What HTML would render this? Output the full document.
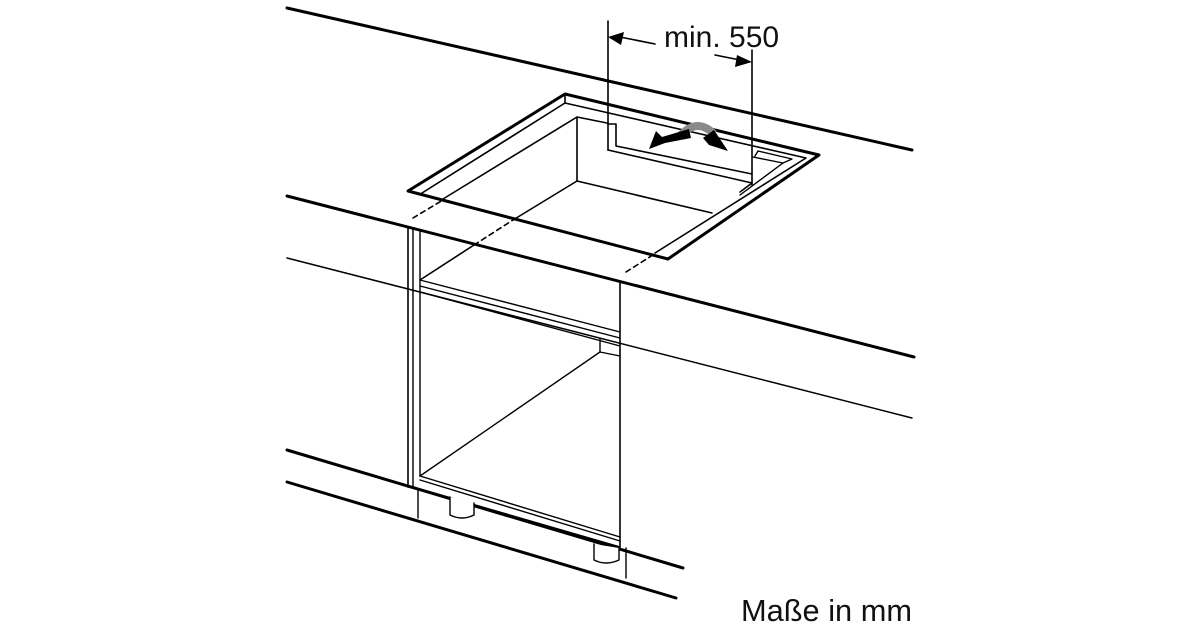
<!DOCTYPE html>
<html><head><meta charset="utf-8"><style>
html,body{margin:0;padding:0;background:#fff;width:1200px;height:630px;overflow:hidden}
svg{display:block}
text{font-family:"Liberation Sans",Arial,sans-serif;fill:#111}
</style></head><body>
<svg width="1200" height="630" viewBox="0 0 1200 630" xmlns="http://www.w3.org/2000/svg">
<g stroke="#000" fill="none" stroke-linecap="round" stroke-linejoin="round">
<line x1="287" y1="8" x2="912" y2="150" stroke-width="3"/>
<line x1="287" y1="196" x2="914" y2="357" stroke-width="3"/>
<line x1="287" y1="258" x2="912" y2="418" stroke-width="1.5"/>
<line x1="287" y1="450" x2="683" y2="568" stroke-width="3"/>
<line x1="287" y1="482" x2="676" y2="598" stroke-width="3"/>
<polygon points="408,191 565,94 819,155 668,259" stroke-width="3" fill="#fff"/>
<polyline points="422,193 565,103 806,158 655,253" stroke-width="1.6"/>
<line x1="565" y1="94" x2="565" y2="103" stroke-width="1.6"/>
<polyline points="443,199 577,117 607,123" stroke-width="1.6"/>
<line x1="577" y1="117" x2="577" y2="181" stroke-width="1.6"/>
<line x1="577" y1="181" x2="712" y2="213" stroke-width="1.6"/>
<line x1="577" y1="181" x2="513" y2="220" stroke-width="1.6"/>
<polyline points="608,124 616,124 616,146 752,174" stroke-width="1.6"/>
<polyline points="608,150 752,183" stroke-width="1.6"/>
<polyline points="755,156 758,151 792,159 783,163 753,157" stroke-width="1.4"/>
<line x1="783" y1="163" x2="740" y2="195" stroke-width="1.4"/>
<line x1="752" y1="183" x2="740" y2="192" stroke-width="1.6"/>
<line x1="413" y1="218" x2="443" y2="200" stroke-width="1.6" stroke-dasharray="5,4"/>
<line x1="474" y1="245" x2="513" y2="220" stroke-width="1.6" stroke-dasharray="5,4"/>
<line x1="626" y1="272" x2="656" y2="253" stroke-width="1.6" stroke-dasharray="5,4"/>
<line x1="608" y1="21" x2="608" y2="150" stroke-width="1.6"/>
<line x1="752" y1="50" x2="752" y2="185" stroke-width="1.6"/>
<line x1="620" y1="37" x2="655" y2="44" stroke-width="1.6"/>
<line x1="715" y1="55" x2="740" y2="60" stroke-width="1.6"/>
<line x1="408" y1="228" x2="408" y2="487" stroke-width="1.6"/>
<line x1="413" y1="228" x2="413" y2="487" stroke-width="1.4"/>
<line x1="420" y1="230" x2="420" y2="476" stroke-width="1.4"/>
<line x1="620" y1="282" x2="620" y2="547" stroke-width="1.6"/>
<line x1="420" y1="280" x2="474" y2="245" stroke-width="1.6"/>
<line x1="420" y1="280" x2="620" y2="332" stroke-width="1.4"/>
<line x1="420" y1="286" x2="620" y2="338" stroke-width="1.4"/>
<line x1="420" y1="292" x2="620" y2="346" stroke-width="1.4"/>
<line x1="600" y1="339" x2="600" y2="352" stroke-width="1.4"/>
<line x1="420" y1="476" x2="600" y2="352" stroke-width="1.4"/>
<line x1="600" y1="352" x2="620" y2="356" stroke-width="1.4"/>
<line x1="413" y1="487" x2="620" y2="547" stroke-width="1.6"/>
<line x1="420" y1="476" x2="620" y2="537" stroke-width="1.4"/>
<line x1="420" y1="480" x2="620" y2="541" stroke-width="1.4"/>
<line x1="408" y1="487" x2="413" y2="487" stroke-width="1.6"/>
<line x1="418" y1="490" x2="418" y2="518" stroke-width="1.4"/>
<line x1="626" y1="548" x2="626" y2="578" stroke-width="1.4"/>
<path d="M450,497 L450,515 Q462,521 474,515 L474,503" stroke-width="1.4" fill="#fff"/>
<path d="M594,544 L594,560 Q606,566 619,560 L619,548" stroke-width="1.4" fill="#fff"/>
</g>
<polygon points="608,37 624,32 621,45" fill="#000"/>
<polygon points="752,62 737,55 735,67" fill="#000"/>
<path d="M680,136 Q697,117 714,134" stroke="#8a8a8a" stroke-width="8" fill="none"/>
<polygon points="649,149 656,131 662,137 689,129 691,138 665,143" fill="#000"/>
<polygon points="703,138 714,130 720,139 728,151 709,145" fill="#000"/>
<text x="664" y="47" font-size="30">min. 550</text>
<text x="741" y="621" font-size="31" textLength="171" lengthAdjust="spacingAndGlyphs">Maße in mm</text>
</svg>
</body></html>
